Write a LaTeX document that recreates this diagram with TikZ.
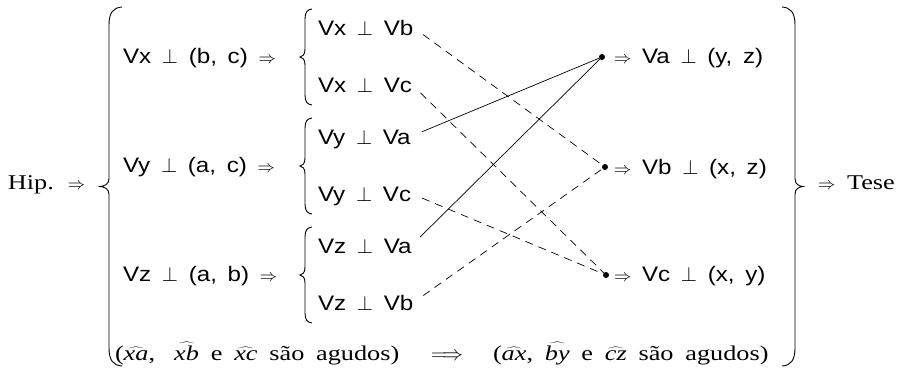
\documentclass[tikz,border=0pt]{standalone}
\usepackage{fontspec}
\setmainfont[FakeStretch=1.25,WordSpace=1.8]{Liberation Serif}
\newfontfamily\fsans[FakeStretch=1.15,WordSpace=1.6]{Liberation Sans}
\newcommand\imp{{\fontsize{17}{19}\selectfont$\Rightarrow$}}
\newcommand\hx[1]{$\widehat{\textit{#1}}$}
% brace: #1 x of vertical, #2 tip x, #3 hook x, #4 top y, #5 bottom y, #6 hook length
\newcommand\Brc[6]{%
\draw[brc] (#3,#4) .. controls ({#1+0.35*(#3-#1)},{#4+0.5}) and (#1,{#4+0.3*#6}) .. (#1,{#4+#6})
 -- (#1,{(#4+#5)/2-8}) .. controls (#1,{(#4+#5)/2-2}) and ({(#1+#2)/2},{(#4+#5)/2-0.5}) .. (#2,{(#4+#5)/2})
 .. controls ({(#1+#2)/2},{(#4+#5)/2+0.5}) and (#1,{(#4+#5)/2+2}) .. (#1,{(#4+#5)/2+8})
 -- (#1,{#5-#6}) .. controls (#1,{#5-0.3*#6}) and ({#1+0.35*(#3-#1)},{#5-0.5}) .. (#3,#5);}
\begin{document}
\begin{tikzpicture}[x=1pt,y=-1pt,
  every node/.style={inner sep=0pt,outer sep=0pt},
  ftxt/.style={anchor=base west,font=\fsans\fontsize{21}{24}\selectfont},
  stxt/.style={anchor=base west,font=\fontsize{21}{24}\selectfont},
  subf/.style={ftxt,text height=15pt,text depth=0pt},
  brc/.style={line width=0.9pt},
  link/.style={line width=0.7pt,shorten <=12pt},
  dlink/.style={link,dash pattern=on 8pt off 6pt},
  dot/.style={circle,fill,minimum size=6pt}]
\useasboundingbox (0,0) rectangle (907,372);
% hypothesis and thesis
\node[stxt] (hip) at (8,189) {Hip. \imp};
\node[stxt] (tese) at (818,189) {\imp\ Tese};
\Brc{109}{100}{122}{7}{366}{18}
\Brc{795}{803}{782}{7}{366}{18}
% main formulas
\node[ftxt] (fx) at (123,63) {Vx $\perp$ (b, c) \imp};
\node[ftxt] (fy) at (123,172) {Vy $\perp$ (a, c) \imp};
\node[ftxt] (fz) at (123,281) {Vz $\perp$ (a, b) \imp};
% small braces
\Brc{305}{300}{312}{9}{105}{10}
\Brc{305}{300}{312}{118}{214}{10}
\Brc{305}{300}{312}{227}{323}{10}
% sub formulas
\node[subf] (xb) at (318,35) {Vx $\perp$ Vb};
\node[subf] (xc) at (318,92) {Vx $\perp$ Vc};
\node[subf] (ya) at (318,144) {Vy $\perp$ Va};
\node[subf] (yc) at (318,201) {Vy $\perp$ Vc};
\node[subf] (za) at (318,253) {Vz $\perp$ Va};
\node[subf] (zb) at (318,310) {Vz $\perp$ Vb};
% dots and conclusions
\node[dot] (da) at (602,57) {};
\node[dot] (db) at (605,167) {};
\node[dot] (dc) at (606,275) {};
\node[ftxt] (ra) at (614,63) {\imp\ Va $\perp$ (y, z)};
\node[ftxt] (rb) at (614,174) {\imp\ Vb $\perp$ (x, z)};
\node[ftxt] (rc) at (614,281) {\imp\ Vc $\perp$ (x, y)};
% bottom line
\node[stxt] (hl) at (115,360) {(\hx{xa},\hspace{0.35em} \hx{xb} e \hx{xc} são agudos)};
\node[stxt] (lim) at (431,360) {$\Longrightarrow$};
\node[stxt] (hr) at (493,360) {(\hx{ax}, \hx{by} e \hx{cz} são agudos)};
% connectors
\draw[dlink] (xb.east) -- (db);
\draw[dlink] (xc.east) -- (dc);
\draw[link] (ya.east) -- (da);
\draw[dlink] (yc.east) -- (dc);
\draw[link] (za.east) -- (da);
\draw[dlink] (zb.east) -- (db);
\end{tikzpicture}
\end{document}
